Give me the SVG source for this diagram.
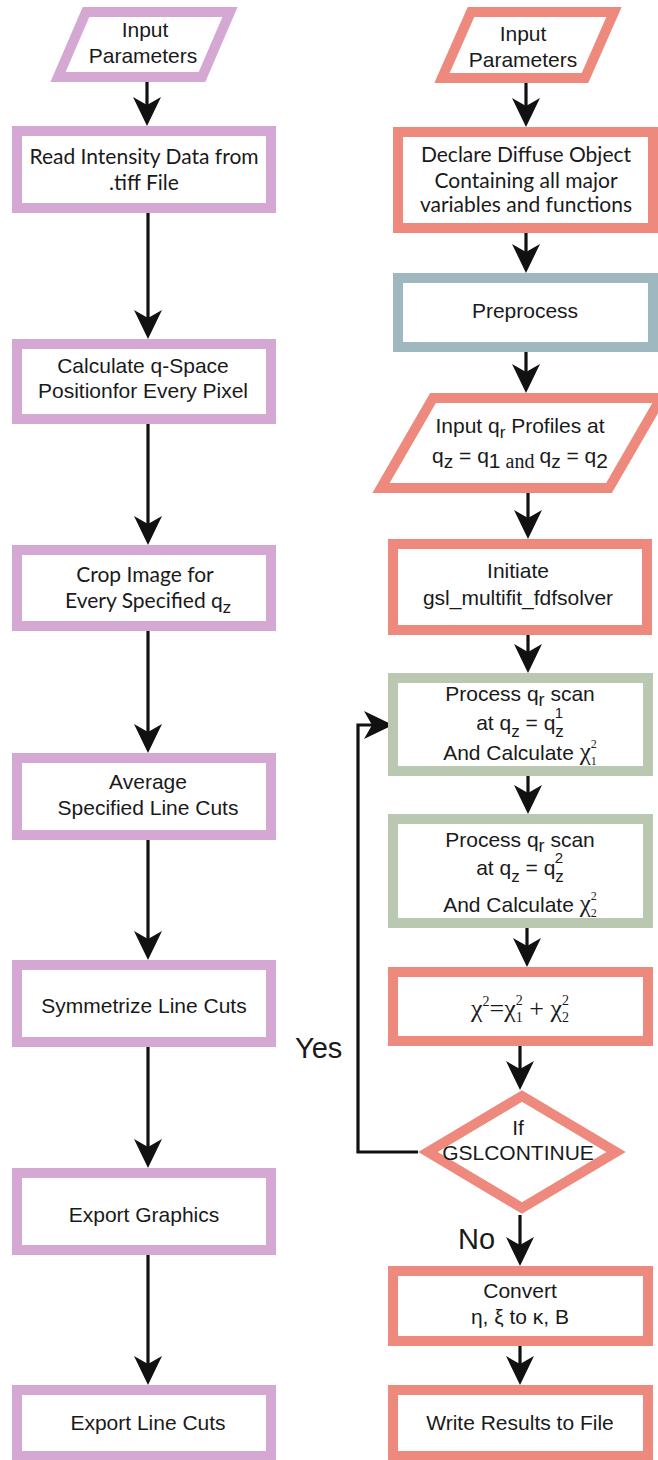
<svg xmlns="http://www.w3.org/2000/svg" width="658" height="1460" viewBox="0 0 658 1460">
<defs>
<style>
.pur{fill:#fff;stroke:#D4A8D3;stroke-width:10}
.sal{fill:#fff;stroke:#EE897D;stroke-width:10}
.blu{fill:#fff;stroke:#9FB8BF;stroke-width:10}
.grn{fill:#fff;stroke:#BAC7B1;stroke-width:10}
.h{font-family:"Liberation Sans",Arial,sans-serif;font-size:21px;fill:#1a1a1a;text-anchor:middle}
.m{font-family:"Lato","Open Sans",sans-serif;font-size:21px;fill:#1a1a1a;text-anchor:middle}
.s{font-family:"Liberation Serif","Times New Roman",serif}
.lbl{font-family:"Liberation Sans",Arial,sans-serif;font-size:29px;fill:#1a1a1a}
.c{fill:none;stroke:#111;stroke-width:3.2}
</style>
<marker id="ah" markerUnits="userSpaceOnUse" markerWidth="32" markerHeight="30" refX="22" refY="14" orient="auto">
<path d="M29,14 L0,0 L8,14 L0,28 Z" fill="#111"/>
</marker>
</defs>
<rect width="658" height="1460" fill="#fff"/>

<g id="connectors">
<line class="c" x1="147" y1="82" x2="147" y2="119" marker-end="url(#ah)"/>
<line class="c" x1="148" y1="213" x2="148" y2="332" marker-end="url(#ah)"/>
<line class="c" x1="148" y1="420" x2="148" y2="538" marker-end="url(#ah)"/>
<line class="c" x1="148" y1="631" x2="148" y2="746" marker-end="url(#ah)"/>
<line class="c" x1="148" y1="840" x2="148" y2="953" marker-end="url(#ah)"/>
<line class="c" x1="148" y1="1047" x2="148" y2="1161" marker-end="url(#ah)"/>
<line class="c" x1="148" y1="1254" x2="148" y2="1378" marker-end="url(#ah)"/>

<line class="c" x1="526" y1="83" x2="526" y2="120" marker-end="url(#ah)"/>
<line class="c" x1="526" y1="233" x2="526" y2="266" marker-end="url(#ah)"/>
<line class="c" x1="526" y1="352" x2="526" y2="386" marker-end="url(#ah)"/>
<line class="c" x1="528" y1="493" x2="528" y2="532" marker-end="url(#ah)"/>
<line class="c" x1="528" y1="635" x2="528" y2="666" marker-end="url(#ah)"/>
<line class="c" x1="528" y1="776" x2="528" y2="807" marker-end="url(#ah)"/>
<line class="c" x1="527" y1="928" x2="527" y2="960" marker-end="url(#ah)"/>
<line class="c" x1="520" y1="1046" x2="520" y2="1083" marker-end="url(#ah)"/>
<line class="c" x1="520" y1="1215" x2="520" y2="1259" marker-end="url(#ah)"/>
<line class="c" x1="520" y1="1346" x2="520" y2="1378" marker-end="url(#ah)"/>
<polyline class="c" points="418,1152 358,1152 358,725 386,725" marker-end="url(#ah)"/>
<text class="lbl" x="295" y="1058">Yes</text>
<text class="lbl" x="458" y="1249">No</text>
</g>

<g id="l1">
<polygon class="pur" points="86,12 230,12 202,77 58,77"/>
<text class="h" x="145" y="37">Input</text>
<text class="h" x="143" y="63">Parameters</text>
</g>
<g id="l2">
<rect class="pur" x="17" y="131" width="254" height="77"/>
<text class="m" x="144" y="164">Read Intensity Data from</text>
<text class="m" x="144" y="190">.tiff File</text>
</g>
<g id="l3">
<rect class="pur" x="17" y="344" width="254" height="75"/>
<text class="h" x="143" y="373">Calculate q-Space</text>
<text class="h" x="143" y="398">Positionfor Every Pixel</text>
</g>
<g id="l4">
<rect class="pur" x="17" y="550" width="254" height="76"/>
<text class="m" x="145" y="582">Crop Image for</text>
<text class="m" x="148" y="608">Every Specified q<tspan dy="5" font-size="18">z</tspan></text>
</g>
<g id="l5">
<rect class="pur" x="17" y="758" width="254" height="77"/>
<text class="h" x="148" y="789">Average</text>
<text class="h" x="148" y="815">Specified Line Cuts</text>
</g>
<g id="l6">
<rect class="pur" x="17" y="965" width="254" height="77"/>
<text class="h" x="144" y="1013">Symmetrize Line Cuts</text>
</g>
<g id="l7">
<rect class="pur" x="17" y="1173" width="254" height="77"/>
<text class="h" x="144" y="1222">Export Graphics</text>
</g>
<g id="l8">
<rect class="pur" x="17" y="1390" width="254" height="66"/>
<text class="h" x="148" y="1430">Export Line Cuts</text>
</g>

<g id="r1">
<polygon class="sal" points="471,12 614,12 585,78 442,78"/>
<text class="h" x="523" y="41">Input</text>
<text class="h" x="523" y="67">Parameters</text>
</g>
<g id="r2">
<rect class="sal" x="398" y="132" width="255" height="96"/>
<text class="m" x="526" y="162">Declare Diffuse Object</text>
<text class="m" x="526" y="188">Containing all major</text>
<text class="m" x="526" y="212">variables and functions</text>
</g>
<g id="r3">
<rect class="blu" x="398" y="278" width="255" height="69"/>
<text class="h" x="525" y="318">Preprocess</text>
</g>
<g id="r4">
<polygon class="sal" points="433,398 661,398 609,488 381,488"/>
<text class="h" x="520" y="433">Input q<tspan dy="5" font-size="17">r</tspan><tspan dy="-5"> Profiles at</tspan></text>
<text class="h" x="520" y="463">q<tspan dy="5" font-size="19">z</tspan><tspan dy="-5"> = q</tspan><tspan dy="5">1</tspan><tspan class="s" font-size="20"> and </tspan><tspan dy="-5">q</tspan><tspan dy="5" font-size="19">z</tspan><tspan dy="-5"> = q</tspan><tspan dy="5">2</tspan></text>
</g>
<g id="r5">
<rect class="sal" x="393" y="544" width="254" height="86"/>
<text class="h" x="518" y="578">Initiate</text>
<text class="h" x="518" y="605">gsl_multifit_fdfsolver</text>
</g>
<g id="r6">
<rect class="grn" x="393" y="678" width="255" height="93"/>
<text class="h" x="520" y="701">Process q<tspan dy="5" font-size="18">r</tspan><tspan dy="-5"> scan</tspan></text>
<text class="h" x="520" y="730">at q<tspan dy="7" font-size="17">z</tspan><tspan dy="-7"> = q</tspan><tspan dy="7" font-size="17">z</tspan><tspan dx="-9" dy="-19" font-size="15">1</tspan></text>
<text class="h" x="520" y="760">And Calculate <tspan class="s" font-size="25">χ</tspan><tspan class="s" font-size="12" dy="5">1</tspan><tspan class="s" font-size="12" dx="-6" dy="-17">2</tspan></text>
</g>
<g id="r7">
<rect class="grn" x="393" y="819" width="255" height="104"/>
<text class="h" x="520" y="847">Process q<tspan dy="5" font-size="18">r</tspan><tspan dy="-5"> scan</tspan></text>
<text class="h" x="520" y="875">at q<tspan dy="7" font-size="17">z</tspan><tspan dy="-7"> = q</tspan><tspan dy="7" font-size="17">z</tspan><tspan dx="-9" dy="-19" font-size="15">2</tspan></text>
<text class="h" x="520" y="912">And Calculate <tspan class="s" font-size="25">χ</tspan><tspan class="s" font-size="12" dy="5">2</tspan><tspan class="s" font-size="12" dx="-6" dy="-17">2</tspan></text>
</g>
<g id="r8">
<rect class="sal" x="393" y="972" width="255" height="69"/>
<text class="h s" x="520" y="1017" style="font-size:26px">χ<tspan font-size="14" dy="-11">2</tspan><tspan dy="11">=χ</tspan><tspan font-size="14" dy="5">1</tspan><tspan font-size="14" dx="-7" dy="-17">2</tspan><tspan dy="12"> + χ</tspan><tspan font-size="14" dy="5">2</tspan><tspan font-size="14" dx="-7" dy="-17">2</tspan></text>
</g>
<g id="r9">
<polygon class="sal" points="522,1096 616,1152 522,1208 428,1152"/>
<text class="h" x="518" y="1135">If</text>
<text class="h" x="518" y="1160">GSLCONTINUE</text>
</g>
<g id="r10">
<rect class="sal" x="393" y="1271" width="255" height="70"/>
<text class="h" x="520" y="1298">Convert</text>
<text class="h" x="520" y="1324">η, ξ to κ, B</text>
</g>
<g id="r11">
<rect class="sal" x="393" y="1390" width="255" height="66"/>
<text class="h" x="520" y="1430">Write Results to File</text>
</g>
</svg>
